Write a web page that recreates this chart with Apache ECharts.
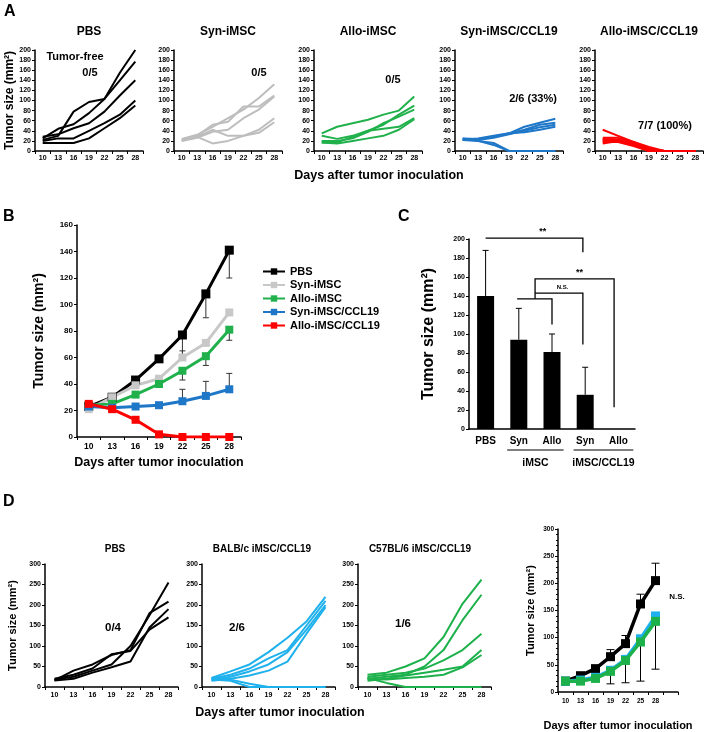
<!DOCTYPE html>
<html><head><meta charset="utf-8">
<script src="https://cdn.jsdelivr.net/npm/echarts@6/dist/echarts.min.js"></script>
<style>html,body{margin:0;padding:0;background:#fff}#c{width:711px;height:732px}</style>
</head><body><div id="c"></div>
<script>
// ---------- data ----------
const days = ['10','13','16','19','22','25','28'];

// Panel A (individual mice)
const aPBS = [
  [22, 30, 78, 97, 103, 140, 177],
  [25, 44, 53, 75, 103, 155, 200],
  [28, 33, 45, 55, 78, 110, 140],
  [20, 25, 25, 40, 55, 72, 100],
  [16, 16, 16, 25, 45, 65, 90]
];
const aSyn = [
  [24, 32, 48, 65, 82, 105, 132],
  [22, 30, 52, 58, 88, 88, 110],
  [20, 26, 38, 42, 65, 82, 108],
  [22, 28, 42, 30, 30, 42, 65],
  [20, 28, 15, 20, 30, 36, 57]
];
const aAllo = [
  [35, 48, 55, 62, 72, 80, 108],
  [30, 24, 30, 40, 52, 72, 90],
  [20, 20, 25, 38, 55, 68, 82],
  [17, 17, 28, 40, 44, 48, 65],
  [17, 15, 20, 25, 30, 42, 63]
];
const aSynCCL = [
  [22, 22, 28, 35, 48, 56, 64],
  [25, 24, 28, 34, 42, 52, 56],
  [22, 25, 30, 35, 37, 42, 48],
  [24, 22, 26, 33, 40, 47, 52],
  [22, 20, 16, 0, 0, 0, 0],
  [25, 20, 12, 0, 0, 0, 0]
];
const aAlloCCL = [
  [42, 30, 18, 5, 0, 0, 0],
  [26, 26, 18, 8, 0, 0, 0],
  [24, 23, 15, 4, 0, 0, 0],
  [20, 20, 12, 0, 0, 0, 0],
  [18, 18, 10, 0, 0, 0, 0],
  [15, 20, 15, 3, 0, 0, 0],
  [22, 22, 12, 0, 0, 0, 0]
];
const aTitles = ['PBS', 'Syn-iMSC', 'Allo-iMSC', 'Syn-iMSC/CCL19', 'Allo-iMSC/CCL19'];
const aFree = ['0/5', '0/5', '0/5', '2/6 (33%)', '7/7 (100%)'];

// Panel B (means)
const bNames = ['PBS', 'Syn-iMSC', 'Allo-iMSC', 'Syn-iMSC/CCL19', 'Allo-iMSC/CCL19'];
const bPBS = [23, 30, 43, 59, 77, 108, 141];
const bSyn = [21, 30, 39, 44, 60, 71, 94];
const bAllo = [24, 25, 32, 40, 50, 61, 81];
const bSynCCL = [23, 22, 23, 24, 27, 31, 36];
const bAlloCCL = [25, 21, 13, 2, 0, 0, 0];
const bPBSErr = [null, null, null, null, 62, 90, 120];
const bSynErr = [null, null, null, null, 65, null, null];
const bAlloErr = [null, null, null, null, 43, 54, 73];
const bSynCCLErr = [null, null, null, null, 36, 42, 48];

// Panel C (day 28)
const cGroups = ['PBS', 'Syn-iMSC', 'Allo-iMSC', 'Syn-iMSC/CCL19', 'Allo-iMSC/CCL19'];
const cLabels = ['PBS', 'Syn', 'Allo', 'Syn', 'Allo'];
const cValues = [140, 94, 81, 36, 0];
const cErrHi = [188, 127, 100, 65, null];

// Panel D
const dPBS = [
  [16, 40, 55, 78, 90, 180, 208],
  [18, 25, 40, 55, 100, 175, 255],
  [20, 30, 45, 80, 88, 140, 170],
  [16, 20, 35, 48, 62, 145, 190]
];
const dBALB = [
  [22, 38, 55, 85, 120, 160, 220],
  [20, 30, 45, 70, 90, 150, 210],
  [17, 25, 38, 55, 85, 140, 200],
  [15, 20, 28, 40, 62, 130, 195],
  [18, 15, 0, 0, 0, 0, 0],
  [22, 18, 8, 0, 0, 0, 0]
];
const dC57 = [
  [30, 35, 50, 70, 122, 203, 262],
  [20, 25, 30, 50, 90, 163, 225],
  [25, 30, 35, 45, 65, 90, 130],
  [15, 20, 28, 35, 42, 50, 90],
  [20, 18, 22, 25, 30, 48, 78],
  [22, 10, 0, 0, 0, 0, 0]
];
const dTitles = ['PBS', 'BALB/c iMSC/CCL19', 'C57BL/6 iMSC/CCL19'];
const dFree = ['0/4', '2/6', '1/6'];
const dDays = ['10','13','16','19','22','25','28',''];
const dMeanPBS = [20, 30, 43, 65, 89, 162, 205];
const dMeanBALB = [20, 22, 27, 40, 60, 98, 140];
const dMeanC57 = [20, 20, 25, 38, 58, 92, 130];
const dPBSErrHi = [null, null, null, 78, 104, 180, 237];
const dC57ErrLo = [null, null, null, 15, 17, 20, 42];

// ---------- helpers ----------
const F = '"Liberation Sans", Arial, Helvetica, sans-serif';
const grids = [], xAxes = [], yAxes = [], series = [], graphics = [];
function addGrid(g, x, y) {
  grids.push(g); const i = grids.length - 1;
  xAxes.push(Object.assign({gridIndex: i}, x));
  yAxes.push(Object.assign({gridIndex: i}, y));
  return i;
}
function catAxis(cats, fs, margin, extra) {
  return Object.assign({
    type: 'category', data: cats, boundaryGap: true,
    axisLine: {lineStyle: {color: '#000', width: 1.5}},
    axisTick: {show: true, length: 3, lineStyle: {color: '#000', width: 1}},
    axisLabel: {fontSize: fs, fontWeight: 'bold', color: '#000', fontFamily: F, margin: margin, interval: 0},
    splitLine: {show: false}
  }, extra || {});
}
function valAxis(max, interval, fs, extra) {
  return Object.assign({
    type: 'value', min: 0, max: max, interval: interval,
    axisLine: {show: true, lineStyle: {color: '#000', width: 1.5}},
    axisTick: {show: true, length: 3, lineStyle: {color: '#000', width: 1}},
    axisLabel: {fontSize: fs, fontWeight: 'bold', color: '#000', fontFamily: F, margin: 4},
    splitLine: {show: false}
  }, extra || {});
}
function yName(text, fs, gap) {
  return {name: text, nameLocation: 'middle', nameGap: gap, nameRotate: 90,
    nameTextStyle: {fontSize: fs, fontWeight: 'bold', color: '#000', fontFamily: F}};
}
function xName(text, fs, gap) {
  return {name: text, nameLocation: 'middle', nameGap: gap,
    nameTextStyle: {fontSize: fs, fontWeight: 'bold', color: '#000', fontFamily: F}};
}
function txt(text, x, y, size, align, vAlign) {
  graphics.push({type: 'text', x: x, y: y, silent: true, style: {
    text: text, font: 'bold ' + size + 'px ' + F, fill: '#000',
    textAlign: align || 'center', textVerticalAlign: vAlign || 'middle',
    align: align || 'center', verticalAlign: vAlign || 'middle'}});
}
function lines(gi, arr, color, width, prefix) {
  arr.forEach((d, j) => series.push({
    type: 'line', name: prefix + j, xAxisIndex: gi, yAxisIndex: gi, data: d,
    symbol: 'none', lineStyle: {color: color, width: width}, itemStyle: {color: color},
    silent: true, animation: false, z: 2
  }));
}
function errSeries(gi, means, ends, color, cap, lw) {
  const data = [];
  ends.forEach((e, i) => { if (e != null) data.push([i, means[i], e]); });
  return {
    type: 'custom', xAxisIndex: gi, yAxisIndex: gi, data: data, z: 1, silent: true, animation: false,
    encode: {x: 0, y: [1, 2]},
    renderItem: (params, api) => {
      const p1 = api.coord([api.value(0), api.value(1)]);
      const p2 = api.coord([api.value(0), api.value(2)]);
      return {type: 'group', children: [
        {type: 'line', shape: {x1: p1[0], y1: p1[1], x2: p2[0], y2: p2[1]}, style: {stroke: color, lineWidth: lw || 1}},
        {type: 'line', shape: {x1: p2[0] - cap, y1: p2[1], x2: p2[0] + cap, y2: p2[1]}, style: {stroke: color, lineWidth: lw || 1}}
      ]};
    }
  };
}
function meanSeries(gi, name, data, color, size, width, z) {
  return {type: 'line', name: name, xAxisIndex: gi, yAxisIndex: gi, data: data,
    symbol: 'rect', symbolSize: size, showSymbol: true,
    lineStyle: {color: color, width: width}, itemStyle: {color: color},
    silent: true, animation: false, z: z || 2};
}

// ---------- Panel A ----------
const aSets = [[aPBS, '#000000'], [aSyn, '#bdbdbd'], [aAllo, '#21b14c'], [aSynCCL, '#1f77c8'], [aAlloCCL, '#ff0000']];
const aLefts = [35, 174, 314, 455, 595];
aSets.forEach((s, k) => {
  const gi = addGrid({left: aLefts[k], top: 50, width: 108, height: 101},
    catAxis(days, 7, 4),
    valAxis(200, 20, 7, k === 0 ? yName('Tumor size (mm²)', 12, 19) : {}));
  lines(gi, s[0], s[1], 2, 'a' + k + '_');
  txt(aTitles[k], aLefts[k] + 54, 32, 12);
});
txt('Tumor-free', 75, 57, 11);
txt(aFree[0], 90, 73, 11);
txt(aFree[1], 259, 73, 11);
txt(aFree[2], 393, 80, 11);
txt(aFree[3], 533, 99, 11);
txt(aFree[4], 665, 126, 11);
txt('Days after tumor inoculation', 379, 176, 12.5);
txt('A', 4, 4, 16, 'left', 'top');

// ---------- Panel B ----------
const gB = addGrid({left: 77, top: 225, width: 164, height: 212},
  catAxis(days, 8.5, 5, xName('Days after tumor inoculation', 12.5, 19)),
  valAxis(160, 20, 8, yName('Tumor size (mm²)', 14, 31)));
series.push(errSeries(gB, bPBS, bPBSErr, '#333', 3));
series.push(errSeries(gB, bSyn, bSynErr, '#333', 3));
series.push(errSeries(gB, bAllo, bAlloErr, '#333', 3));
series.push(errSeries(gB, bSynCCL, bSynCCLErr, '#333', 3));
series.push(meanSeries(gB, bNames[0], bPBS, '#000000', 9, 3, 3));
series.push(meanSeries(gB, bNames[1], bSyn, '#c8c8c8', 8, 3, 3));
series.push(meanSeries(gB, bNames[2], bAllo, '#21b14c', 8, 3, 3));
series.push(meanSeries(gB, bNames[3], bSynCCL, '#1f77c8', 8, 3, 3));
series.push(meanSeries(gB, bNames[4], bAlloCCL, '#ff0000', 8, 3, 4));
txt('B', 3, 209, 16, 'left', 'top');

// ---------- Panel C ----------
const gC = addGrid({left: 469, top: 239, width: 166, height: 190},
  catAxis(cGroups, 10, 7, {axisTick: {show: false}, axisLabel: {fontSize: 10, fontWeight: 'bold', color: '#000', fontFamily: F, margin: 7, interval: 0, formatter: (v, i) => cLabels[i]}}),
  valAxis(200, 20, 7, yName('Tumor size (mm²)', 16, 32)));
series.push({type: 'bar', xAxisIndex: gC, yAxisIndex: gC, data: cValues, barWidth: 17,
  itemStyle: {color: '#000'}, silent: true, animation: false, z: 2});
series.push(errSeries(gC, cValues, cErrHi, '#000', 3));
// significance brackets: [category position, value]
const cBrackets = [
  {pts: [[0, 201], [2.93, 201], [2.93, 186]], label: '**', at: [1.72, 203], size: 9},
  {pts: [[1.49, 137], [1.49, 158], [3.87, 158], [3.87, 23]], label: '**', at: [2.83, 160], size: 9},
  {pts: [[1.49, 143], [2.93, 143], [2.93, 89]], label: 'N.S.', at: [2.32, 146], size: 6},
  {pts: [[0.95, 137], [2.0, 137], [2.0, 110]], label: '', at: [0, 0], size: 6}
];
series.push({type: 'custom', xAxisIndex: gC, yAxisIndex: gC, silent: true, animation: false, z: 3,
  data: cBrackets.map((b, i) => [i, 0]),
  renderItem: (params, api) => {
    const b = cBrackets[params.dataIndex];
    const x0 = api.coord([0, 0])[0], step = api.coord([1, 0])[0] - x0;
    const P = p => [x0 + p[0] * step, api.coord([0, p[1]])[1]];
    const children = [{type: 'polyline', shape: {points: b.pts.map(P)}, style: {stroke: '#000', lineWidth: 1.3, fill: null}}];
    if (b.label) {
      const q = P(b.at);
      children.push({type: 'text', x: q[0], y: q[1], style: {text: b.label, font: 'bold ' + b.size + 'px ' + F, fill: '#000', textAlign: 'center', textVerticalAlign: 'bottom', align: 'center', verticalAlign: 'bottom'}});
    }
    return {type: 'group', children: children};
  }});
// group labels under the axis
const cSub = [{from: 0.65, to: 2.35, text: 'iMSC'}, {from: 2.65, to: 4.45, text: 'iMSC/CCL19'}];
series.push({type: 'custom', xAxisIndex: gC, yAxisIndex: gC, silent: true, animation: false,
  data: cSub.map((s, i) => [i, 0]),
  renderItem: (params, api) => {
    const s = cSub[params.dataIndex];
    const o = api.coord([0, 0]), step = api.coord([1, 0])[0] - o[0];
    const xa = o[0] + s.from * step, xb = o[0] + s.to * step, xm = (xa + xb) / 2;
    return {type: 'group', children: [
      {type: 'line', shape: {x1: xa, y1: o[1] + 21, x2: xb, y2: o[1] + 21}, style: {stroke: '#000', lineWidth: 1}},
      {type: 'text', x: xm, y: o[1] + 34, style: {text: s.text, font: 'bold 10.5px ' + F, fill: '#000', textAlign: 'center', textVerticalAlign: 'middle', align: 'center', verticalAlign: 'middle'}}
    ]};
  }});
txt('C', 398, 209, 16, 'left', 'top');

// ---------- Panel D ----------
const dSets = [[dPBS, '#000000'], [dBALB, '#1fb1ec'], [dC57, '#1db14c']];
const dLefts = [45, 202, 358];
const dTitleX = [115, 262, 420];
const dFreePos = [[113, 628], [237, 628], [403, 624]];
dSets.forEach((s, k) => {
  const gi = addGrid({left: dLefts[k], top: 564, width: 133, height: 123},
    catAxis(days, 7, 5),
    valAxis(300, 50, 7, k === 0 ? yName('Tumor size (mm²)', 11, 27) : {}));
  lines(gi, s[0], s[1], 2, 'd' + k + '_');
  txt(dTitles[k], dTitleX[k], 549, 10);
  txt(dFree[k], dFreePos[k][0], dFreePos[k][1], 11.5);
});
txt('Days after tumor inoculation', 280, 713, 12.5);
const gD4 = addGrid({left: 558, top: 529, width: 120, height: 163},
  catAxis(dDays, 6.5, 6, xName('Days after tumor inoculation', 11, 28)),
  valAxis(300, 50, 6.5, Object.assign(yName('Tumor size (mm²)', 11, 22), {minorTick: {show: true, splitNumber: 5, length: 2, lineStyle: {color: '#000'}}})));
series.push(errSeries(gD4, dMeanPBS, dPBSErrHi, '#000', 4));
series.push(errSeries(gD4, dMeanC57, dC57ErrLo, '#000', 4));
series.push(meanSeries(gD4, 'dm0', dMeanPBS, '#000000', 9, 3.5, 3));
series.push(meanSeries(gD4, 'dm1', dMeanBALB, '#1fb1ec', 9, 3.5, 3));
series.push(meanSeries(gD4, 'dm2', dMeanC57, '#1db14c', 9, 3.5, 4));
txt('N.S.', 677, 597, 8);
txt('D', 3, 494, 16, 'left', 'top');

// ---------- chart ----------
const chart = echarts.init(document.getElementById('c'), null, {renderer: 'canvas'});
chart.setOption({
  backgroundColor: '#ffffff',
  animation: false,
  textStyle: {fontFamily: F},
  grid: grids, xAxis: xAxes, yAxis: yAxes, series: series,
  legend: {
    data: bNames, orient: 'vertical', left: 257, top: 261, itemGap: 2.5,
    itemWidth: 22, itemHeight: 8, selectedMode: false,
    textStyle: {fontSize: 11, fontWeight: 'bold', color: '#000', fontFamily: F}
  },
  graphic: graphics
});
</script>
</body></html>
